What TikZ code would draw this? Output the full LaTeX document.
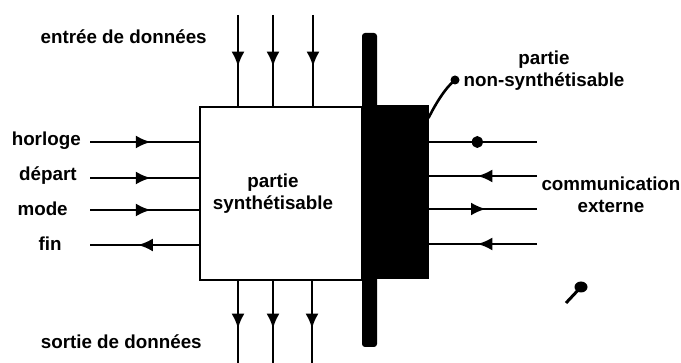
\documentclass[tikz,border=0pt]{standalone}
\usepackage{fontspec}
\setmainfont{Liberation Sans}
\usetikzlibrary{arrows.meta,decorations.markings}
\begin{document}
\begin{tikzpicture}[x=1pt,y=-1pt,
  line width=2.6pt,
  lbl/.style={inner sep=0pt,font=\fontsize{18.8}{22}\selectfont\bfseries},
  arrmid/.style={postaction={decorate},decoration={markings,
     mark=at position #1 with {\arrow{Latex[length=15pt,width=13pt]}}}},
  dotmid/.style={postaction={decorate},decoration={markings,
     mark=at position #1 with {\fill (0,0) ellipse (5.5pt and 6pt);}}}
]
\useasboundingbox (0,0) rectangle (681,363);
% main white box
\node[draw,fill=white,minimum width=162pt,minimum height=173pt,inner sep=0pt] (box) at (281,193.5) {};
% shaded non-synthesizable part
\node[draw,fill=black,minimum width=66pt,minimum height=173pt,inner sep=0pt,line width=1pt] (shade) at (395,192.5) {};
% vertical bar
\node[fill=black,minimum width=15pt,minimum height=314pt,inner sep=0pt,rounded corners=3pt] (bar) at (369.5,190) {};

% texts
\node[lbl,align=center] (synth) at (273,194) {partie\\synthétisable};
\node[lbl,anchor=east] (entree) at (208,37) {entrée de données};
\node[lbl,anchor=east] (sortie) at (203,342) {sortie de données};
\node[lbl,anchor=east] (horloge) at (82,141) {horloge};
\node[lbl,anchor=east] (depart) at (78,176) {départ};
\node[lbl,anchor=east] (mode) at (69,209) {mode};
\node[lbl,anchor=east] (fin) at (63,244) {fin};
\node[lbl,align=center] (comm) at (611,195) {communication\\externe};
\node[lbl,align=center] (nonsyn) at (544,71) {partie\\non-synthétisable};

% top input arrows
\coordinate (t1) at (238,15);
\coordinate (t2) at (273,15);
\coordinate (t3) at (313,15);
\draw[arrmid=0.57] (t1) -- (t1 |- box.north);
\draw[arrmid=0.57] (t2) -- (t2 |- box.north);
\draw[arrmid=0.57] (t3) -- (t3 |- box.north);

% bottom output arrows
\coordinate (b1) at (238,363);
\coordinate (b2) at (273,363);
\coordinate (b3) at (312,363);
\draw[arrmid=0.58] (b1 |- box.south) -- (b1);
\draw[arrmid=0.58] (b2 |- box.south) -- (b2);
\draw[arrmid=0.58] (b3 |- box.south) -- (b3);

% left signals
\coordinate (l1) at (90,142);
\coordinate (l2) at (90,178);
\coordinate (l3) at (90,210);
\coordinate (l4) at (90,245);
\draw[arrmid=0.56] (l1) -- (l1 -| box.west);
\draw[arrmid=0.56] (l2) -- (l2 -| box.west);
\draw[arrmid=0.56] (l3) -- (l3 -| box.west);
\draw[arrmid=0.56] (l4 -| box.west) -- (l4);

% right signals (external communication)
\coordinate (r1) at (537,142);
\coordinate (r2) at (537,176);
\coordinate (r3) at (537,209);
\coordinate (r4) at (537,244);
\draw[dotmid=0.45] (r1 -| shade.east) -- (r1);
\draw[arrmid=0.55] (r2) -- (r2 -| shade.east);
\draw[arrmid=0.53] (r3 -| shade.east) -- (r3);
\draw[arrmid=0.55] (r4) -- (r4 -| shade.east);

% leader to non-synthesizable label
\coordinate (lead) at (455,80);
\fill (lead) circle (4.5pt);
\draw (lead) .. controls (445,88) and (435,105) .. (shade.east |- 0,118);

% stray mark
\coordinate (stray) at (581,287);
\fill (stray) ellipse (6.5pt and 5.5pt);
\draw[line width=3pt] (stray) -- (566,303);
\end{tikzpicture}
\end{document}
